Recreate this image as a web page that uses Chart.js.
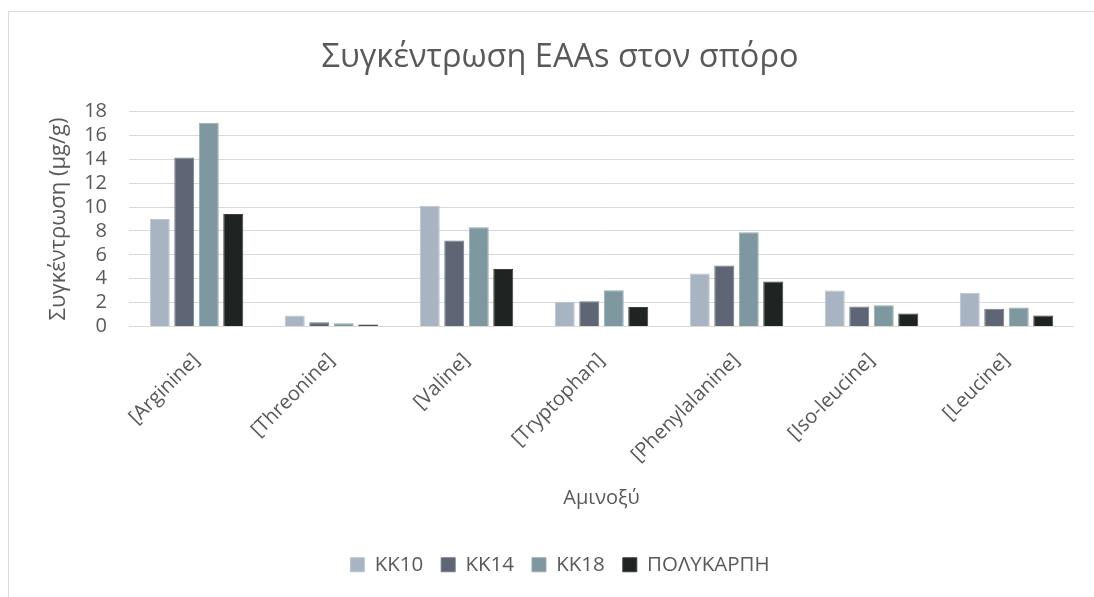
<!DOCTYPE html>
<html>
<head>
<meta charset="utf-8">
<script src="https://cdn.jsdelivr.net/npm/chart.js@4.4.1/dist/chart.umd.min.js"></script>
<style>
  html, body { margin: 0; padding: 0; background: #ffffff; overflow: hidden; }
  #frame { position: absolute; left: 8px; top: 11px; width: 1200px; height: 700px; border: 1px solid #d9d9d9; box-sizing: border-box; }
  #wrap { position: absolute; left: 0; top: 0; width: 1094px; height: 597px; }
</style>
</head>
<body>
<div id="frame"></div>
<div id="wrap"><canvas id="c" width="1094" height="597"></canvas></div>
<script>
const categories = ["[Arginine]", "[Threonine]", "[Valine]", "[Tryptophan]", "[Phenylalanine]", "[Iso-leucine]", "[Leucine]"];
const seriesNames = ["KK10", "KK14", "KK18", "ΠΟΛΥΚΑΡΠΗ"];
const kk10 = [9.0, 0.92, 10.1, 2.06, 4.43, 3.01, 2.82];
const kk14 = [14.15, 0.36, 7.2, 2.12, 5.1, 1.67, 1.48];
const kk18 = [17.05, 0.28, 8.3, 3.04, 7.89, 1.78, 1.59];
const polykarpi = [9.42, 0.17, 4.82, 1.64, 3.76, 1.09, 0.92];
const yTicks = [0, 2, 4, 6, 8, 10, 12, 14, 16, 18];

const fills = ["#A8B4C1", "#5E6574", "#7F979F", "#1F2422"];
const edges = ["#BCC5D0", "#737A88", "#97ABB2", "#3a403e"];
const values = [kk10, kk14, kk18, polykarpi];

const textColor = "#595959";
const fontFamily = "'Open Sans', 'Noto Sans', sans-serif";

new Chart(document.getElementById("c"), {
  type: "bar",
  data: {
    labels: categories,
    datasets: seriesNames.map((n, i) => ({
      label: n,
      data: values[i],
      backgroundColor: fills[i],
      borderColor: edges[i],
      borderWidth: 1,
      categoryPercentage: 0.726,
      barPercentage: 0.816
    }))
  },
  options: {
    responsive: false,
    animation: false,
    devicePixelRatio: 1,
    layout: { padding: { left: 46, right: 20, top: 0, bottom: 12 } },
    plugins: {
      tooltip: { enabled: false },
      title: {
        display: true,
        text: "Συγκέντρωση EAAs στον σπόρο",
        color: textColor,
        font: { family: fontFamily, size: 32.5, weight: "normal" },
        padding: { top: 38, bottom: 34.5 }
      },
      legend: {
        position: "bottom",
        labels: {
          color: textColor,
          font: { family: fontFamily, size: 20.5 },
          boxWidth: 14,
          boxHeight: 14,
          padding: 18
        }
      }
    },
    scales: {
      x: {
        grid: { display: false, drawTicks: false },
        border: { display: false },
        ticks: {
          color: textColor,
          font: { family: fontFamily, size: 20 },
          minRotation: 45,
          maxRotation: 45,
          autoSkip: false,
          padding: 22
        },
        title: {
          display: true,
          text: "Αμινοξύ",
          color: textColor,
          font: { family: fontFamily, size: 20 },
          padding: { top: 0, bottom: 26.5 }
        },
        afterFit: (s) => { s.height = 210; }
      },
      y: {
        min: 0,
        max: 18,
        afterBuildTicks: (s) => { s.ticks = yTicks.map(v => ({ value: v })); },
        grid: { color: "#d9d9d9", lineWidth: 1, drawTicks: false },
        border: { display: false },
        ticks: {
          color: textColor,
          font: { family: fontFamily, size: 20 },
          autoSkip: false,
          padding: 22
        },
        title: {
          display: true,
          text: "Συγκέντρωση (μg/g)",
          color: textColor,
          font: { family: fontFamily, size: 22 },
          padding: { top: 0, bottom: 0 }
        },
        afterFit: (s) => { s.width = 83; }
      }
    }
  }
});
</script>
</body>
</html>
